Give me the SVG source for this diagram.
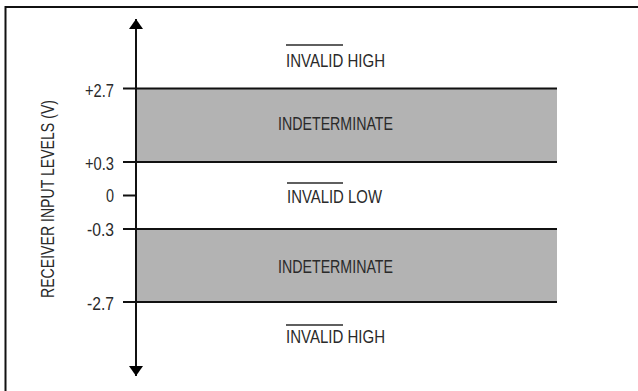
<svg xmlns="http://www.w3.org/2000/svg" width="638" height="391" viewBox="0 0 638 391">
<defs>
<style>
text{font-family:"Liberation Sans",Arial,sans-serif;font-size:18px;fill:#2a2a2a}
.c{text-anchor:middle}
.r{text-anchor:end}
.band{fill:#b3b3b3;stroke:none}
.ln{stroke:#111;stroke-width:2;fill:none}
.ov{stroke:#2a2a2a;stroke-width:1.3}
</style>
<marker id="ah" viewBox="0 0 10 14" refX="10" refY="7" markerWidth="10" markerHeight="14" markerUnits="userSpaceOnUse" orient="auto">
<path d="M0,0 L10,7 L0,14 Z" fill="#000"/>
</marker>
</defs>
<rect width="638" height="391" fill="#fff"/>
<path d="M5.5,391 V7 H638" fill="none" stroke="#111" stroke-width="2"/>

<g id="band-high">
<rect class="band" x="136" y="88" width="421" height="74"/>
<text class="c" x="335.5" y="130" textLength="115" lengthAdjust="spacingAndGlyphs">INDETERMINATE</text>
</g>
<g id="band-low">
<rect class="band" x="136" y="229" width="421" height="73"/>
<text class="c" x="335.5" y="273" textLength="115" lengthAdjust="spacingAndGlyphs">INDETERMINATE</text>
</g>
<g id="invalid-high-top">
<line class="ov" x1="286" y1="45" x2="343" y2="45"/>
<text x="286" y="66.5" textLength="99" lengthAdjust="spacingAndGlyphs">INVALID HIGH</text>
</g>
<g id="invalid-low">
<line class="ov" x1="287" y1="183" x2="343" y2="183"/>
<text x="287" y="203" textLength="95" lengthAdjust="spacingAndGlyphs">INVALID LOW</text>
</g>
<g id="invalid-high-bottom">
<line class="ov" x1="286" y1="325" x2="343" y2="325"/>
<text x="286" y="343" textLength="99" lengthAdjust="spacingAndGlyphs">INVALID HIGH</text>
</g>
<g id="axis-label">
<text class="c" transform="translate(54,199) rotate(-90)" textLength="198" lengthAdjust="spacingAndGlyphs">RECEIVER INPUT LEVELS (V)</text>
</g>
<g id="tick-labels">
<text class="r" x="114" y="96.5" textLength="29" lengthAdjust="spacingAndGlyphs">+2.7</text>
<text class="r" x="114" y="170" textLength="29" lengthAdjust="spacingAndGlyphs">+0.3</text>
<text class="r" x="114" y="202" textLength="8" lengthAdjust="spacingAndGlyphs">0</text>
<text class="r" x="114" y="235.5" textLength="27" lengthAdjust="spacingAndGlyphs">-0.3</text>
<text class="r" x="114" y="309.5" textLength="27" lengthAdjust="spacingAndGlyphs">-2.7</text>
</g>
<g id="connectors">
<line class="ln" x1="136" y1="196" x2="136" y2="19" marker-end="url(#ah)"/>
<line class="ln" x1="136" y1="196" x2="136" y2="376" marker-end="url(#ah)"/>
<line class="ln" x1="123" y1="88.5" x2="557" y2="88.5"/>
<line class="ln" x1="123" y1="162" x2="557" y2="162"/>
<line class="ln" x1="123" y1="195.5" x2="136" y2="195.5"/>
<line class="ln" x1="123" y1="229" x2="557" y2="229"/>
<line class="ln" x1="123" y1="302" x2="557" y2="302"/>
</g>
</svg>
